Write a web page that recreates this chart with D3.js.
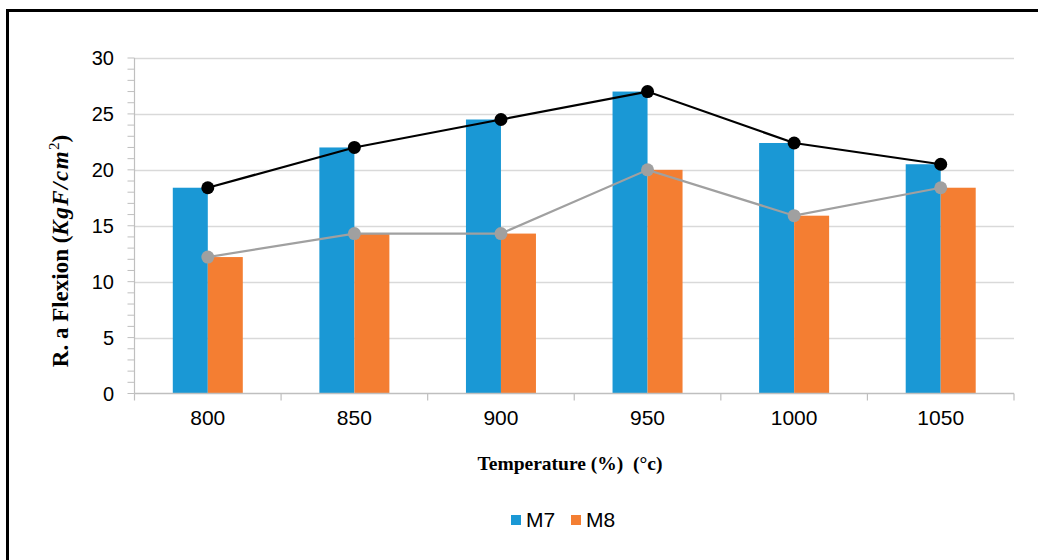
<!DOCTYPE html>
<html>
<head>
<meta charset="utf-8">
<script src="https://cdn.jsdelivr.net/npm/d3@7"></script>
<style>
html,body{margin:0;padding:0;background:#fff;}
svg{display:block;}
</style>
</head>
<body>
<svg id="chart" width="1038" height="560"></svg>
<script>
const categories = ["800", "850", "900", "950", "1000", "1050"];
const seriesNames = ["M7", "M8"];
const m7Values = [18.4, 22.0, 24.5, 27.0, 22.4, 20.5];
const m8Values = [12.2, 14.3, 14.3, 20.0, 15.9, 18.4];
const yTicks = [0, 5, 10, 15, 20, 25, 30];

(function () {
const colors = {M7: "#1a98d5", M8: "#f47e32"};
const lineColors = {M7: "#000000", M8: "#a0a0a0"};

const svg = d3.select("#chart");

// frame
svg.append("rect").attr("x", 7.5).attr("y", 10.5).attr("width", 1040).attr("height", 560)
  .attr("fill", "none").attr("stroke", "#000").attr("stroke-width", 3);

const pLeft = 134.5, pRight = 1014, pTop = 58, pBottom = 393.5;

const x = d3.scaleBand().domain(categories).range([pLeft, pRight]).paddingInner(0).paddingOuter(0);
const y = d3.scaleLinear().domain([0, 30]).range([pBottom, pTop]);
const bw = 35;

// gridlines
svg.append("g").selectAll("line").data(yTicks.filter(d => d > 0)).join("line")
  .attr("x1", pLeft).attr("x2", pRight)
  .attr("y1", d => Math.round(y(d)) + 0.5).attr("y2", d => Math.round(y(d)) + 0.5)
  .attr("stroke", "#d9d9d9").attr("stroke-width", 1.5);

// y axis minor ticks
const minor = d3.range(0, 31, 1);
svg.append("g").selectAll("line").data(minor).join("line")
  .attr("x1", pLeft - 7).attr("x2", pLeft)
  .attr("y1", d => y(d)).attr("y2", d => y(d))
  .attr("stroke", "#bfbfbf").attr("stroke-width", 1);
svg.append("line").attr("x1", pLeft).attr("x2", pLeft).attr("y1", pTop).attr("y2", pBottom)
  .attr("stroke", "#bfbfbf").attr("stroke-width", 1.2);

// y tick labels
svg.append("g").selectAll("text").data(yTicks).join("text")
  .attr("x", 114).attr("y", d => y(d)).attr("dy", "0.36em")
  .attr("text-anchor", "end")
  .attr("font-family", "Liberation Sans, Arial, sans-serif").attr("font-size", 20)
  .attr("fill", "#000").text(d => d);

// bars
const data = categories.map((c, i) => ({c, M7: m7Values[i], M8: m8Values[i]}));
const g = svg.append("g");
data.forEach(d => {
  const cx = x(d.c) + x.bandwidth() / 2;
  g.append("rect").attr("x", cx - bw).attr("width", bw)
    .attr("y", y(d.M7)).attr("height", y(0) - y(d.M7)).attr("fill", colors.M7);
  g.append("rect").attr("x", cx).attr("width", bw)
    .attr("y", y(d.M8)).attr("height", y(0) - y(d.M8)).attr("fill", colors.M8);
});

// x axis
svg.append("line").attr("x1", pLeft).attr("x2", pRight).attr("y1", pBottom).attr("y2", pBottom)
  .attr("stroke", "#bfbfbf").attr("stroke-width", 1.5);
const bounds = categories.map(c => x(c)).concat([pRight]);
svg.append("g").selectAll("line").data(bounds).join("line")
  .attr("x1", d => d).attr("x2", d => d).attr("y1", pBottom).attr("y2", pBottom + 7)
  .attr("stroke", "#bfbfbf").attr("stroke-width", 1.2);
svg.append("g").selectAll("text").data(categories).join("text")
  .attr("x", d => x(d) + x.bandwidth() / 2).attr("y", 425)
  .attr("text-anchor", "middle")
  .attr("font-family", "Liberation Sans, Arial, sans-serif").attr("font-size", 21)
  .attr("fill", "#000").text(d => d);

// lines with markers
const line = d3.line().x(d => x(d.c) + x.bandwidth() / 2).y(d => y(d.v));
[["M8", m8Values], ["M7", m7Values]].forEach(([name, vals]) => {
  const pts = categories.map((c, i) => ({c, v: vals[i]}));
  svg.append("path").datum(pts).attr("d", line).attr("fill", "none")
    .attr("stroke", lineColors[name]).attr("stroke-width", 2.2);
  svg.append("g").selectAll("circle").data(pts).join("circle")
    .attr("cx", d => x(d.c) + x.bandwidth() / 2).attr("cy", d => y(d.v))
    .attr("r", 6.5).attr("fill", lineColors[name]);
});

// y axis title
const yt = svg.append("text")
  .attr("transform", "translate(68,251) rotate(-90)")
  .attr("text-anchor", "middle")
  .attr("font-family", "Liberation Serif, Times New Roman, serif").attr("font-size", 23)
  .attr("font-weight", "bold").attr("fill", "#000");
yt.append("tspan").text("R. a Flexion (");
yt.append("tspan").attr("font-style", "italic").attr("letter-spacing", 1.5).text("KgF/cm");
yt.append("tspan").attr("font-size", 15).attr("dy", -9).attr("font-weight", "normal").text("2");
yt.append("tspan").attr("dy", 9).text(")");

// x axis title
svg.append("text").attr("x", 570).attr("y", 470).attr("text-anchor", "middle")
  .attr("font-family", "Liberation Serif, Times New Roman, serif").attr("font-size", 19.5)
  .attr("font-weight", "bold").attr("fill", "#000")
  .style("white-space", "pre")
  .text("Temperature (%)  (°c)");

// legend
const legend = svg.append("g");
const legItems = [{name: seriesNames[0], x: 511}, {name: seriesNames[1], x: 571}];
legItems.forEach(it => {
  legend.append("rect").attr("x", it.x).attr("y", 515).attr("width", 10).attr("height", 10)
    .attr("fill", colors[it.name]);
  legend.append("text").attr("x", it.x + 15).attr("y", 527)
    .attr("font-family", "Liberation Sans, Arial, sans-serif").attr("font-size", 21)
    .attr("fill", "#000").text(it.name);
});
})();
</script>
</body>
</html>
